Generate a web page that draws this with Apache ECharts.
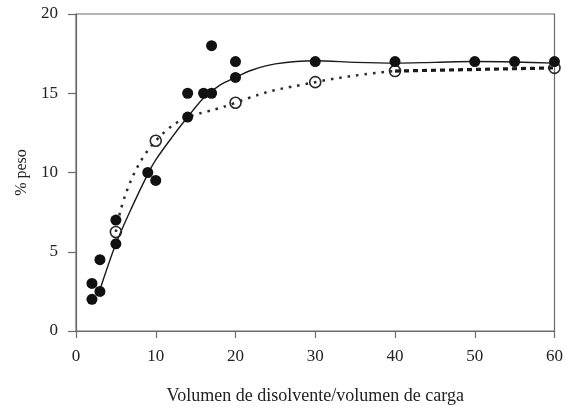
<!DOCTYPE html>
<html><head><meta charset="utf-8">
<script src="https://cdn.jsdelivr.net/npm/echarts@6/dist/echarts.min.js"></script>
<style>html,body{margin:0;padding:0;background:#fff}#c{width:566px;height:410px}</style>
</head><body><div id="c"></div>
<script>
// Filled circles (measured data)
var filledX = [2, 2, 3, 3, 5, 5, 9, 10, 14, 14, 16, 17, 17, 20, 20, 30, 40, 50, 55, 60];
var filledY = [3.0, 2.0, 4.5, 2.5, 7.0, 5.5, 10.0, 9.5, 15.0, 13.5, 15.0, 18.0, 15.0, 17.0, 16.0, 17.0, 17.0, 17.0, 17.0, 17.0];
// Open circles (dotted series)
var openX = [5, 10, 20, 30, 40, 60];
var openY = [6.25, 12.0, 14.4, 15.7, 16.4, 16.6];
// Fitted solid curve
var fitX = [3, 5, 7, 9, 10, 12, 14, 16, 18, 20, 22, 25, 30, 35, 40, 45, 50, 55, 60];
var fitY = [2.6, 5.5, 7.8, 9.9, 10.8, 12.2, 13.5, 14.7, 15.5, 16.0, 16.45, 16.85, 17.05, 16.95, 16.9, 16.95, 17.0, 16.97, 16.9];
var xTicks = [0, 10, 20, 30, 40, 50, 60];
var yTicks = [0, 5, 10, 15, 20];

function pairs(xs, ys){ return xs.map(function(x,i){ return [x, ys[i]]; }); }
var openPairs = pairs(openX, openY);
var font = '"Liberation Serif", "Times New Roman", serif';

var chart = echarts.init(document.getElementById('c'));
chart.setOption({
  animation: false,
  backgroundColor: '#fff',
  grid: { left: 76, right: 8, top: 14, bottom: 77, show: true, borderColor: '#6a6a6a', borderWidth: 1.2 },
  xAxis: {
    type: 'value', min: xTicks[0], max: xTicks[xTicks.length-1], interval: 10,
    name: 'Volumen de disolvente/volumen de carga', nameLocation: 'middle', nameGap: 56,
    nameTextStyle: { fontFamily: font, fontSize: 18, color: '#222' },
    axisLine: { lineStyle: { color: '#6a6a6a', width: 1.2 } },
    axisTick: { length: 7, lineStyle: { color: '#6a6a6a', width: 1.2 } },
    axisLabel: { fontFamily: font, fontSize: 17, color: '#222', margin: 17 },
    splitLine: { show: false }
  },
  yAxis: {
    type: 'value', min: yTicks[0], max: yTicks[yTicks.length-1], interval: 5,
    name: '% peso', nameLocation: 'middle', nameGap: 46, nameRotate: 90,
    nameTextStyle: { fontFamily: font, fontSize: 16, color: '#222' },
    axisLine: { show: true, lineStyle: { color: '#6a6a6a', width: 1.2 } },
    axisTick: { show: true, length: 8, lineStyle: { color: '#6a6a6a', width: 1.2 } },
    axisLabel: { fontFamily: font, fontSize: 17, color: '#222', margin: 18 },
    splitLine: { show: false }
  },
  series: [
    { type: 'line', data: pairs(fitX, fitY), smooth: 0.3, showSymbol: false,
      lineStyle: { color: '#1a1a1a', width: 1.4 }, z: 2 },
    { type: 'scatter', data: openPairs, symbol: 'circle', symbolSize: 11,
      itemStyle: { color: 'rgba(255,255,255,0)', borderColor: '#2a2a2a', borderWidth: 1.6, opacity: 1 }, z: 3 },
    { type: 'line', data: openPairs.slice(0, 5), smooth: 0.5, showSymbol: false,
      lineStyle: { color: '#2a2a2a', width: 2.5, type: [2.5, 6] }, z: 4 },
    { type: 'line', data: openPairs.slice(4), showSymbol: false,
      lineStyle: { color: '#1a1a1a', width: 3.2, type: [5, 4] }, z: 4 },
    { type: 'scatter', data: pairs(filledX, filledY), symbol: 'circle', symbolSize: 11,
      itemStyle: { color: '#111', opacity: 1 }, z: 5 }
  ]
});
</script></body></html>
